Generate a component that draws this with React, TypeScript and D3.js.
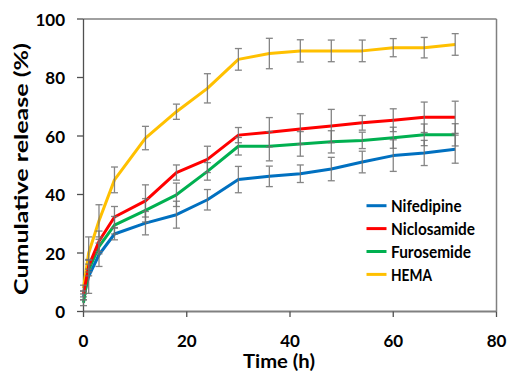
import React from "react";
import * as d3 from "d3";

const time = [0, 1, 3, 6, 12, 18, 24, 30, 36, 42, 48, 54, 60, 66, 72];
const nifedipine = [5, 12, 19.4, 26.5, 30.2, 33.1, 38.2, 45.1, 46.2, 47.1, 48.7, 51.1, 53.3, 54.2, 55.5];
const nifedipineErr = [1, 5.8, 4, 2, 4, 4.6, 3.5, 4.5, 3.5, 3, 4, 3.7, 5.4, 4.3, 4.8];
const niclosamide = [6, 15.5, 24, 32.3, 37.8, 47.5, 52, 60.3, 61.3, 62.4, 63.4, 64.5, 65.4, 66.4, 66.4];
const niclosamideErr = [1, 2, 3.5, 3.6, 5.5, 2.6, 4.5, 2.6, 5, 5.2, 5.7, 2.5, 3.9, 5.2, 5.5];
const furosemide = [3, 14.2, 22.2, 29.5, 34.6, 39.9, 47.9, 56.5, 56.5, 57.3, 58.0, 58.5, 59.4, 60.4, 60.4];
const furosemideErr = [1, 2, 2.5, 3, 4, 4, 3, 3, 5, 4.2, 3.8, 2.8, 3.6, 3.7, 3.8];
const hema = [8, 20, 31, 45, 59.3, 68.3, 76.3, 86.2, 88.2, 89.1, 89.1, 89.1, 90.2, 90.2, 91.3];
const hemaErr = [1, 5.5, 5.5, 4.4, 4, 2.6, 5, 3.7, 5.2, 3.8, 3.7, 3.7, 3.1, 3.5, 3.7];

const seriesNames = ["Nifedipine", "Niclosamide", "Furosemide", "HEMA"];
const seriesColors = ["#0070C0", "#FF0000", "#00B050", "#FFC000"];
const seriesValues = [nifedipine, niclosamide, furosemide, hema];
const seriesErrors = [nifedipineErr, niclosamideErr, furosemideErr, hemaErr];
const legendTextWidths = [70.5, 84, 80, 41];

const xTicks = [0, 20, 40, 60, 80];
const yTicks = [0, 20, 40, 60, 80, 100];

const FONT = "Lato, 'Liberation Sans', sans-serif";

export default function App() {
  const x = d3.scaleLinear().domain([0, 80]).range([83.5, 496.5]);
  const y = d3.scaleLinear().domain([0, 100]).range([311.5, 19]);
  const line = d3
    .line<[number, number]>()
    .x((d) => x(d[0]))
    .y((d) => y(d[1]));

  const drawOrder = [3, 0, 2, 1];

  return (
    <svg
      width={510}
      height={375}
      style={{ position: "absolute", left: 0, top: 0, background: "#fff" }}
      fontFamily={FONT}
    >
      <rect x={0} y={0} width={510} height={375} fill="#fff" />
      {/* frame */}
      <line x1={x(0)} x2={x(80)} y1={y(100)} y2={y(100)} stroke="#808080" strokeWidth={1.5} />
      <line x1={x(80)} x2={x(80)} y1={y(100)} y2={y(0)} stroke="#808080" strokeWidth={1.5} />
      <line x1={x(0)} x2={x(80)} y1={y(0)} y2={y(0)} stroke="#808080" strokeWidth={1.8} />
      <line x1={x(0)} x2={x(0)} y1={y(100)} y2={y(0)} stroke="#505050" strokeWidth={1.3} />

      {/* y ticks */}
      {yTicks.map((t) => (
        <g key={"y" + t}>
          <line x1={x(0) - 6.5} x2={x(0)} y1={y(t)} y2={y(t)} stroke="#505050" strokeWidth={1.3} />
          <text
            x={65}
            y={y(t)}
            textAnchor="end"
            dominantBaseline="central"
            fontSize={17}
            fontWeight="bold"
            fill="#000"
          >
            {t}
          </text>
        </g>
      ))}
      {/* x ticks */}
      {xTicks.map((t) => (
        <g key={"x" + t}>
          <line x1={x(t)} x2={x(t)} y1={y(0)} y2={y(0) + 5.5} stroke="#505050" strokeWidth={1.3} />
          <text x={x(t)} y={347} textAnchor="middle" fontSize={17} fontWeight="bold" fill="#000">
            {t}
          </text>
        </g>
      ))}

      {/* axis titles */}
      <text
        transform="translate(28,169) rotate(-90)"
        textAnchor="middle"
        fontSize={18}
        fontWeight="bold"
        textLength={252}
        lengthAdjust="spacingAndGlyphs"
        fill="#000"
      >
        Cumulative release (%)
      </text>
      <text
        x={279}
        y={368}
        textAnchor="middle"
        fontSize={18}
        fontWeight="bold"
        textLength={72}
        lengthAdjust="spacingAndGlyphs"
        fill="#000"
      >
        Time (h)
      </text>

      {/* lines */}
      {drawOrder.map((i) => (
        <path
          key={"l" + i}
          d={line(time.map((t, k) => [t, seriesValues[i][k]] as [number, number])) || ""}
          fill="none"
          stroke={seriesColors[i]}
          strokeWidth={3}
          strokeLinejoin="round"
        />
      ))}

      {/* error bars */}
      {drawOrder.map((i) =>
        time.map((t, k) => {
          const v = seriesValues[i][k];
          const e = seriesErrors[i][k];
          const cx = x(t);
          return (
            <g key={"e" + i + "-" + k} stroke="#707070" strokeWidth={1.3} opacity={0.85}>
              <line x1={cx} x2={cx} y1={y(v + e)} y2={y(v - e)} />
              <line x1={cx - 3.5} x2={cx + 3.5} y1={y(v + e)} y2={y(v + e)} />
              <line x1={cx - 3.5} x2={cx + 3.5} y1={y(v - e)} y2={y(v - e)} />
            </g>
          );
        })
      )}

      {/* legend */}
      {seriesNames.map((name, i) => {
        const ly = 205.7 + i * 22.9;
        return (
          <g key={"lg" + i}>
            <line x1={366.5} x2={386.5} y1={ly} y2={ly} stroke={seriesColors[i]} strokeWidth={3} />
            <text
              x={391}
              y={ly}
              dominantBaseline="central"
              fontSize={17.5}
              fontWeight="bold"
              textLength={legendTextWidths[i]}
              lengthAdjust="spacingAndGlyphs"
              fill="#000"
            >
              {name}
            </text>
          </g>
        );
      })}
    </svg>
  );
}
